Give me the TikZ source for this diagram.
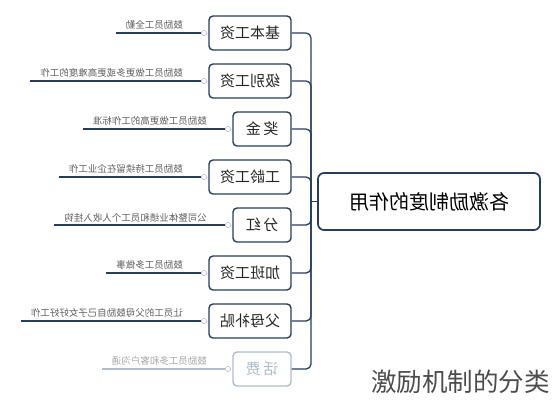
\documentclass[tikz,border=0pt]{standalone}
\usepackage{fontspec}
\usepackage{graphicx}
\usetikzlibrary{positioning}
\setmainfont{Noto Sans CJK SC}
\definecolor{ramo}{RGB}{38,62,94}
\definecolor{tenue}{RGB}{175,188,202}
\definecolor{hoja}{RGB}{95,95,95}
\newcommand{\espejo}[1]{\reflectbox{#1}}

\begin{document}
\begin{tikzpicture}[x=1pt,y=-1pt,
    caja/.style={draw=ramo, line width=1.4pt, rounded corners=4pt, fill=white, minimum height=34pt, inner sep=0pt, font=\fontsize{15}{15}\selectfont, text=black!85},
    ancha/.style={caja, minimum width=82pt},
    estrecha/.style={caja, minimum width=58pt},
    perilla/.style={circle, draw=tenue, fill=white, line width=0.6pt, inner sep=0pt, minimum size=5pt},
    nota/.style={inner sep=1pt, font=\fontsize{9.5}{10}\selectfont, text=hoja},
    linea/.style={draw=ramo, line width=1.3pt}]
    \useasboundingbox (0,0) rectangle (552,400);

    % Nodo central y tronco
    \node[draw=ramo, line width=1.7pt, rounded corners=6pt, minimum width=222pt, minimum height=57pt, font=\fontsize{20}{20}\selectfont] (c) at (429,201.5) {\espejo{各激励制度的作用}};
    \coordinate (t) at (311,201.5);
    \draw[linea] (c.west) -- (t);

    % Ramas
    \node[ancha] (b1) at (250,33) {\espejo{基本工资}};
    \node[ancha] (b2) at (250,81) {\espejo{级别工资}};
    \node[estrecha] (b3) at (262,129) {\espejo{奖\,金}};
    \node[ancha] (b4) at (250,177) {\espejo{工龄工资}};
    \node[estrecha] (b5) at (262,225) {\espejo{分\,红}};
    \node[ancha] (b6) at (250,273) {\espejo{加班工资}};
    \node[ancha] (b7) at (250,321) {\espejo{父母补贴}};
    \node[estrecha, draw=tenue, text=tenue] (b8) at (262,369) {\espejo{话\,费}};
    \foreach \b in {b1,b2,b3,b4,b5,b6,b7,b8}
        \draw[linea, rounded corners=5pt] (\b.east) -| (t);

    % Hojas con su nota
    \foreach \b/\txt in {b1/鼓励员工全勤, b2/鼓励员工做更多或更高难度的工作, b3/鼓励员工做更高的工作标准, b4/鼓励员工持续留在企业工作, b5/公司整体业绩和员工个人收入挂钩, b6/鼓励员工多做事, b7/让员工的父母鼓励自己子女好好工作}{
        \node[perilla, left=1.5pt of \b.west] (k\b) {};
        \node[nota, above left=2pt and 20pt of k\b.center] (n\b) {\espejo{\txt}};
        \draw[linea] (k\b) -- (k\b -| n\b.west) -- ++(-9,0);
    }
    \node[perilla, left=1.5pt of b8.west] (kb8) {};
    \node[nota, text=black!35, above left=2pt and 20pt of kb8.center] (nb8) {\espejo{鼓励员工多和客户沟通}};
    \draw[tenue, line width=1.1pt] (kb8) -- (kb8 -| nb8.west) -- ++(-9,0);

    % Pie
    \node[anchor=east, inner sep=0pt, text=black!70, font=\fontsize{25.5}{26}\selectfont] (pie) at (550,382) {激励机制的分类};
\end{tikzpicture}
\end{document}
